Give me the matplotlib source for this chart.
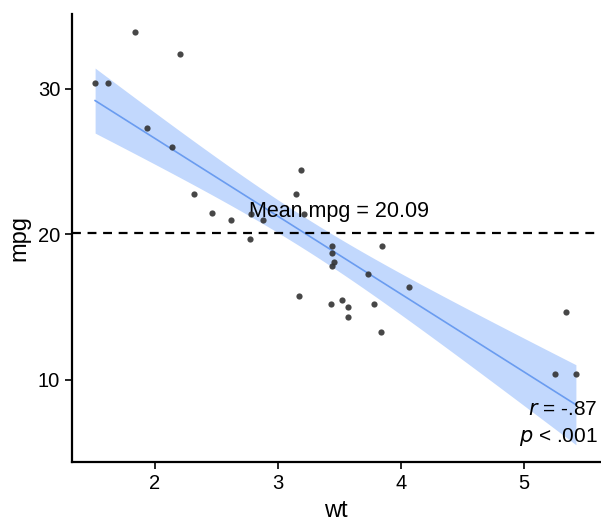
import numpy as np
import matplotlib.pyplot as plt

# mtcars weight (1000 lbs) and miles per gallon
wt = [2.620, 2.875, 2.320, 3.215, 3.440, 3.460, 3.570, 3.190, 3.150, 3.440,
      3.440, 4.070, 3.730, 3.780, 5.250, 5.424, 5.345, 2.200, 1.615, 1.835,
      2.465, 3.520, 3.435, 3.840, 3.845, 1.935, 2.140, 1.513, 3.170, 2.770,
      3.570, 2.780]
mpg = [21.0, 21.0, 22.8, 21.4, 18.7, 18.1, 14.3, 24.4, 22.8, 19.2,
       17.8, 16.4, 17.3, 15.2, 10.4, 10.4, 14.7, 32.4, 30.4, 33.9,
       21.5, 15.5, 15.2, 13.3, 19.2, 27.3, 26.0, 30.4, 15.8, 19.7,
       15.0, 21.4]
x_ticks = [2, 3, 4, 5]
y_ticks = [10, 20, 30]

plt.rcParams['font.family'] = ['Liberation Sans', 'DejaVu Sans']

x = np.array(wt)
y = np.array(mpg)
n = len(x)

# linear fit with 95% confidence band
b1, b0 = np.polyfit(x, y, 1)
xs = np.linspace(x.min(), x.max(), 80)
fit = b0 + b1 * xs
resid = y - (b0 + b1 * x)
s = np.sqrt(np.sum(resid ** 2) / (n - 2))
sxx = np.sum((x - x.mean()) ** 2)
tval = 2.042  # t(0.975, 30)
se = s * np.sqrt(1 / n + (xs - x.mean()) ** 2 / sxx)
r = np.corrcoef(x, y)[0, 1]
mean_mpg = y.mean()

fig = plt.figure(figsize=(6.01, 5.25), dpi=100)
ax = fig.add_axes([72 / 601, 63 / 525, 528 / 601, 448 / 525])

ax.fill_between(xs, fit - tval * se, fit + tval * se, color='#c2d8fd', lw=0, zorder=1)
ax.plot(xs, fit, color='#6a9cf0', lw=1.2, zorder=2)
ax.axhline(mean_mpg, color='black', lw=1.6, ls=(0, (4, 3)), zorder=2)
ax.text(3.5, mean_mpg + 0.75, 'Mean mpg = %.2f' % mean_mpg, ha='center', va='bottom',
        fontsize=15.5, zorder=3)
ax.scatter(x, y, s=20, color='#333333', alpha=0.9, lw=0, zorder=4)

ax.text(5.6, 8.0, '$r$ = -.%d' % round(abs(r) * 100), ha='right', va='center', fontsize=15)
ax.text(5.6, 6.1, '$p$ < .001', ha='right', va='center', fontsize=15)

ax.set_xlim(1.325, 5.62)
ax.set_ylim(4.36, 35.15)
ax.set_xticks(x_ticks)
ax.set_yticks(y_ticks)
ax.tick_params(labelsize=14.5, width=1.2, length=5, colors='black')
for side in ['top', 'right']:
    ax.spines[side].set_visible(False)
for side in ['left', 'bottom']:
    ax.spines[side].set_linewidth(1.6)
ax.set_xlabel('wt', fontsize=17, labelpad=5)
ax.set_ylabel('mpg', fontsize=17, labelpad=5)

plt.savefig('out.png', dpi=100)
